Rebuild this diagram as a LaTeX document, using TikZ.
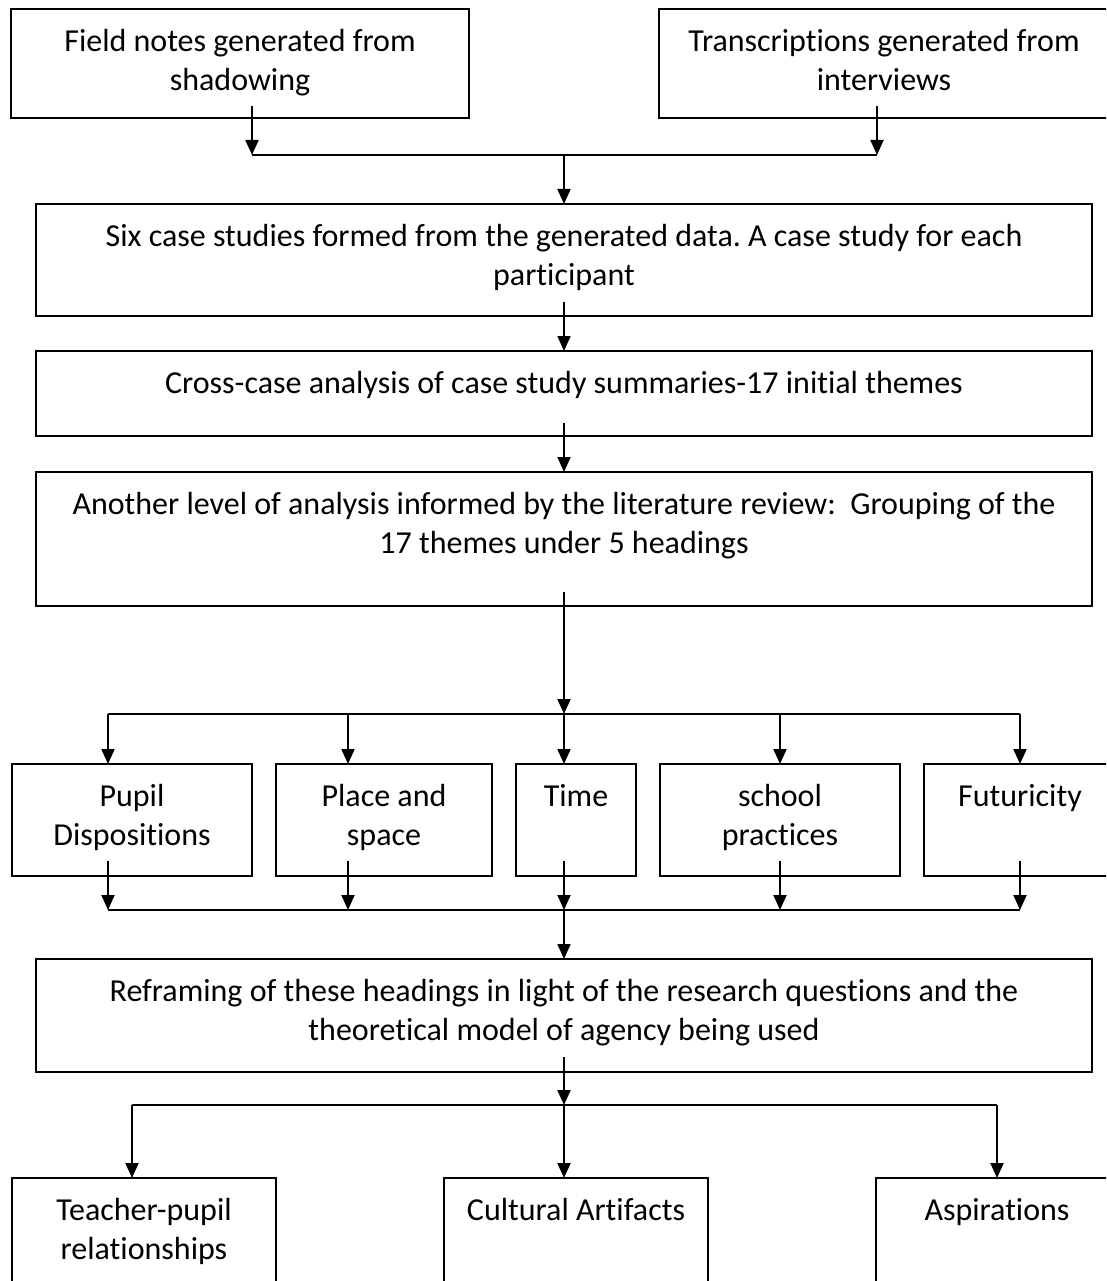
\documentclass[tikz,border=0pt]{standalone}
\usepackage{fontspec}
\setmainfont{Carlito}[Ligatures={NoCommon}]
\frenchspacing
\usetikzlibrary{arrows.meta,calc}
\begin{document}
\begin{tikzpicture}[x=1pt,y=-1pt,
  box/.style={draw,line width=2pt,anchor=north west,inner sep=0pt,outer sep=0pt},
  txt/.style={anchor=north,align=center,inner sep=0pt,font=\fontsize{32}{39}\selectfont\frenchspacing},
  conn/.style={line width=2pt},
  arr/.style={line width=2pt,-{Triangle[length=15pt,width=13pt]}},
]
\useasboundingbox (0,0) rectangle (1106,1281);
\clip (0,0) rectangle (1106,1281);
% boxes
\node[box,minimum width=458pt,minimum height=109pt] (b1) at (11,9) {};
\node[box,minimum width=450pt,minimum height=109pt] (b2) at (659,9) {};
\node[box,minimum width=1056pt,minimum height=112pt] (b3) at (36,204) {};
\node[box,minimum width=1056pt,minimum height=85pt] (b4) at (36,351) {};
\node[box,minimum width=1056pt,minimum height=134pt] (b5) at (36,472) {};
\node[box,minimum width=240pt,minimum height=112pt] (p1) at (12,764) {};
\node[box,minimum width=216pt,minimum height=112pt] (p2) at (276,764) {};
\node[box,minimum width=120pt,minimum height=112pt] (p3) at (516,764) {};
\node[box,minimum width=240pt,minimum height=112pt] (p4) at (660,764) {};
\node[box,minimum width=192pt,minimum height=112pt] (p5) at (924,764) {};
\node[box,minimum width=1056pt,minimum height=113pt] (b6) at (36,959) {};
\node[box,minimum width=264pt,minimum height=140pt] (q1) at (12,1178) {};
\node[box,minimum width=264pt,minimum height=140pt] (q2) at (444,1178) {};
\node[box,minimum width=242pt,minimum height=140pt] (q3) at (876,1178) {};
% texts
\node[txt] (t1) at ($(b1.north)+(0,20)$) {Field notes generated from\\shadowing};
\node[txt] (t2) at ($(b2.north)+(0,20)$) {Transcriptions generated from\\interviews};
\node[txt] (t3) at ($(b3.north)+(0,20)$) {Six case studies formed from the generated data. A case study for each\\participant};
\node[txt] (t4) at ($(b4.north)+(0,20)$) {Cross-case analysis of case study summaries-17 initial themes};
\node[txt] (t5) at ($(b5.north)+(0,20)$) {Another level of analysis informed by the literature review:\ \ Grouping of the\\17 themes under 5 headings};
\node[txt] (tp1) at ($(p1.north)+(0,20)$) {Pupil\\Dispositions};
\node[txt] (tp2) at ($(p2.north)+(0,20)$) {Place and\\space};
\node[txt] (tp3) at ($(p3.north)+(0,20)$) {Time};
\node[txt] (tp4) at ($(p4.north)+(0,20)$) {school\\practices};
\node[txt] (tp5) at ($(p5.north)+(0,20)$) {Futuricity};
\node[txt] (t6) at ($(b6.north)+(0,20)$) {Reframing of these headings in light of the research questions and the\\theoretical model of agency being used};
\node[txt] (tq1) at ($(q1.north)+(0,20)$) {Teacher-pupil\\relationships};
\node[txt] (tq2) at ($(q2.north)+(0,20)$) {Cultural Artifacts};
\node[txt] (tq3) at ($(q3.north)+(0,20)$) {Aspirations};
% junction coordinates
\coordinate (xa) at (252,155);
\coordinate (xb) at (877,155);
\coordinate (j1) at (564,155);
\coordinate (j2) at (564,714);
\coordinate (d1) at (108,714);
\coordinate (d2) at (348,714);
\coordinate (d3) at (564,714);
\coordinate (d4) at (780,714);
\coordinate (d5) at (1020,714);
\coordinate (u1) at (108,910);
\coordinate (u2) at (348,910);
\coordinate (u3) at (564,910);
\coordinate (u4) at (780,910);
\coordinate (u5) at (1020,910);
\coordinate (k1) at (132,1105);
\coordinate (k2) at (564,1105);
\coordinate (k3) at (997,1105);
% connectors
\draw[arr] ([yshift=12pt]b1.south -| xa) -- (xa);
\draw[arr] ([yshift=12pt]b2.south -| xb) -- (xb);
\draw[conn] (xa) -- (xb);
\draw[arr] (j1) -- (b3.north);
\draw[arr] ([yshift=14pt]b3.south) -- (b4.north);
\draw[arr] ([yshift=13pt]b4.south) -- (b5.north);
\draw[arr] ([yshift=14pt]b5.south) -- (j2);
\draw[conn] (d1) -- (d5);
\draw[arr] (d1) -- (d1 |- p1.north);
\draw[arr] (d2) -- (d2 |- p2.north);
\draw[arr] (d3) -- (d3 |- p3.north);
\draw[arr] (d4) -- (d4 |- p4.north);
\draw[arr] (d5) -- (d5 |- p5.north);
\draw[arr] ([yshift=15pt]p1.south -| u1) -- (u1);
\draw[arr] ([yshift=15pt]p2.south -| u2) -- (u2);
\draw[arr] ([yshift=15pt]p3.south -| u3) -- (u3);
\draw[arr] ([yshift=15pt]p4.south -| u4) -- (u4);
\draw[arr] ([yshift=15pt]p5.south -| u5) -- (u5);
\draw[conn] (u1) -- (u5);
\draw[arr] (u3) -- (b6.north);
\draw[arr] ([yshift=15pt]b6.south) -- (k2);
\draw[conn] (k1) -- (k3);
\draw[arr] (k1) -- (k1 |- q1.north);
\draw[arr] (k2) -- (k2 |- q2.north);
\draw[arr] (k3) -- (k3 |- q3.north);
\end{tikzpicture}
\end{document}
